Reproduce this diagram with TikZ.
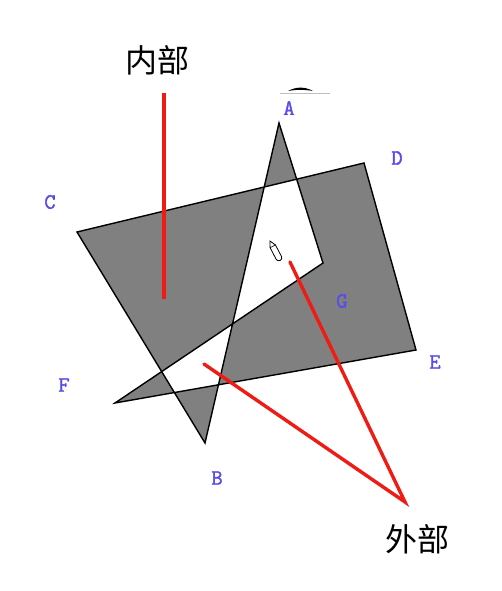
\documentclass[tikz,border=0pt]{standalone}
\usepackage{fontspec}
\usepackage{xcolor}
\newfontfamily\cjk{Noto Sans CJK SC}
\newfontfamily\ptfont{Latin Modern Mono}[FakeBold=1.6]
\usetikzlibrary{positioning,calc}
\definecolor{ptblue}{RGB}{88,76,236}
\definecolor{regiongray}{RGB}{128,128,128}
\definecolor{linered}{RGB}{238,28,20}

\begin{document}
\begin{tikzpicture}[
  x=1pt, y=-1pt,
  region/.style={draw=black, line width=1.4pt, fill=regiongray, even odd rule, line join=miter},
  vlabel/.style={text=ptblue, inner sep=0pt, font=\ptfont\fontsize{22}{22}\selectfont},
  cnlabel/.style={inner sep=0pt, font=\cjk\fontsize{32}{32}\selectfont},
  pointer/.style={draw=linered, line width=3.4pt},
]
\useasboundingbox (0,0) rectangle (502,591);

\coordinate (A) at (279,123);
\coordinate (G) at (323,263);
\coordinate (F) at (115,403);
\coordinate (E) at (416,350);
\coordinate (D) at (364,163);
\coordinate (C) at (77,232);
\coordinate (B) at (205,443);

\path[region] (A) -- (G) -- (F) -- (E) -- (D) -- (C) -- (B) -- cycle;

\node[vlabel] (lA) at (289,108) {A};
\node[vlabel] (lB) at (217,478) {B};
\node[vlabel] (lC) at (50,202)  {C};
\node[vlabel] (lD) at (397,158) {D};
\node[vlabel] (lE) at (435,362) {E};
\node[vlabel] (lF) at (64,385)  {F};
\node[vlabel] (lG) at (342,301) {G};

\node[cnlabel] (inner) at (157,60)  {内部};
\node[cnlabel] (outer) at (417,539) {外部};

\coordinate (innerTop) at (164,93);
\coordinate (innerTip) at (164,299);
\coordinate (outerTop) at (405,502);
\coordinate (holeTip)  at (290,262);
\coordinate (gapTip)   at (204,364);

\draw[pointer] (innerTop) -- (innerTip);
\draw[pointer, line cap=round] (holeTip) -- (outerTop) -- (gapTip);

\begin{scope}[shift={(270,241)}, rotate=-62.4]
  \draw[fill=white, line width=0.8pt] (0,0) -- (6,3) -- (19,3) arc (90:-90:3) -- (6,-3) -- cycle;
  \draw[line width=0.6pt] (6,3) -- (6,-3);
\end{scope}

\fill (288,91) .. controls (296,86.5) and (305,86.5) .. (313,91) .. controls (305,89.5) and (296,89.5) .. (288,91);
\draw[black!25, line width=0.6pt] (280,93) -- (330,93);
\end{tikzpicture}
\end{document}
